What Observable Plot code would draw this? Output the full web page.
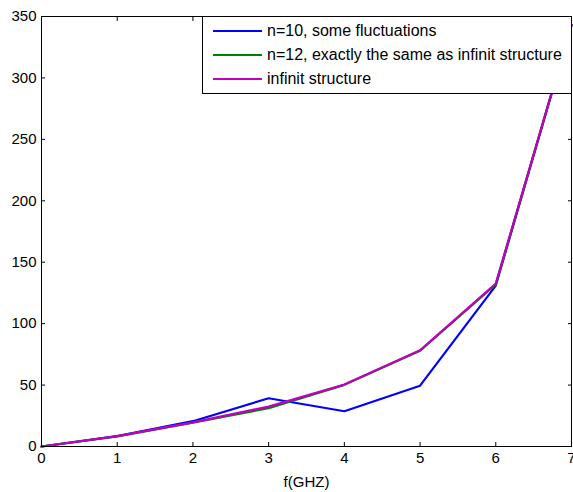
<!DOCTYPE html>
<html>
<head>
<meta charset="utf-8">
<script src="https://cdn.jsdelivr.net/npm/d3@7"></script>
<script src="https://cdn.jsdelivr.net/npm/@observablehq/plot@0.6"></script>
<style>
  body { margin: 0; background: #fff; }
  #wrap { position: relative; width: 573px; height: 492px; font-family: "Liberation Sans", Arial, sans-serif; }
  #legend { position: absolute; left: 202px; top: 16px; width: 370px; height: 78px; border: 1px solid #000; background: #fff; box-sizing: border-box; }
  .item { position: absolute; left: 0; height: 20px; display: flex; align-items: center; font-size: 16px; color: #000; white-space: nowrap; }
  .swatch { display: inline-block; width: 49px; height: 2px; margin-left: 10px; margin-right: 5px; }
</style>
</head>
<body>
<div id="wrap"></div>
<script>
const freq = [0, 1, 2, 3, 4, 5, 6, 7];
const n10 = [0, 8.5, 20.6, 39.3, 28.7, 49.5, 131, 343];
const n12 = [0, 8.3, 19.3, 31.2, 50.2, 78, 132, 343];
const infinite = [0, 8.5, 19.6, 32.5, 50.4, 78.3, 132.7, 343];
const seriesNames = ["n=10, some fluctuations", "n=12, exactly the same as infinit structure", "infinit structure"];
const seriesColors = ["#0000ff", "#008000", "#bf00bf"];
const xTicks = [0, 1, 2, 3, 4, 5, 6, 7];
const yTicks = [0, 50, 100, 150, 200, 250, 300, 350];
const xLabel = "f(GHZ)";

const allSeries = [n10, n12, infinite];
const rows = [];
allSeries.forEach((vals, s) => vals.forEach((v, i) => rows.push({f: freq[i], v, s: seriesNames[s]})));

const intFmt = d3.format("d");
const chart = Plot.plot({
  width: 573,
  height: 492,
  marginLeft: 41,
  marginRight: 2,
  marginTop: 16,
  marginBottom: 46,
  style: { fontFamily: '"Liberation Sans", Arial, sans-serif', fontSize: "15px", color: "#000", background: "#fff", overflow: "visible" },
  x: { domain: [0, 7] },
  y: { domain: [0, 350] },
  color: { domain: seriesNames, range: seriesColors },
  marks: [
    Plot.line(rows, { x: "f", y: "v", z: "s", stroke: "s", strokeWidth: 2.2 }),
    Plot.frame({ stroke: "#000", strokeWidth: 1 }),
    Plot.axisX({ ticks: xTicks, tickFormat: intFmt, tickSize: -4, tickPadding: 10, label: xLabel, labelAnchor: "center", labelArrow: "none", labelOffset: 40, fontSize: 15 }),
    Plot.axisX({ anchor: "top", ticks: xTicks, tickSize: -4, tickFormat: () => "", label: null }),
    Plot.axisY({ ticks: yTicks, tickFormat: intFmt, tickSize: -4, tickPadding: 9, label: null, fontSize: 15 }),
    Plot.axisY({ anchor: "right", ticks: yTicks, tickSize: -4, tickFormat: () => "", label: null })
  ]
});
const wrap = document.getElementById("wrap");
wrap.appendChild(chart);

const legend = document.createElement("div");
legend.id = "legend";
seriesNames.forEach((name, i) => {
  const item = document.createElement("div");
  item.className = "item";
  item.style.top = (4 + i * 24) + "px";
  const sw = document.createElement("span");
  sw.className = "swatch";
  sw.style.background = seriesColors[i];
  item.appendChild(sw);
  item.appendChild(document.createTextNode(name));
  legend.appendChild(item);
});
wrap.appendChild(legend);
</script>
</body>
</html>
